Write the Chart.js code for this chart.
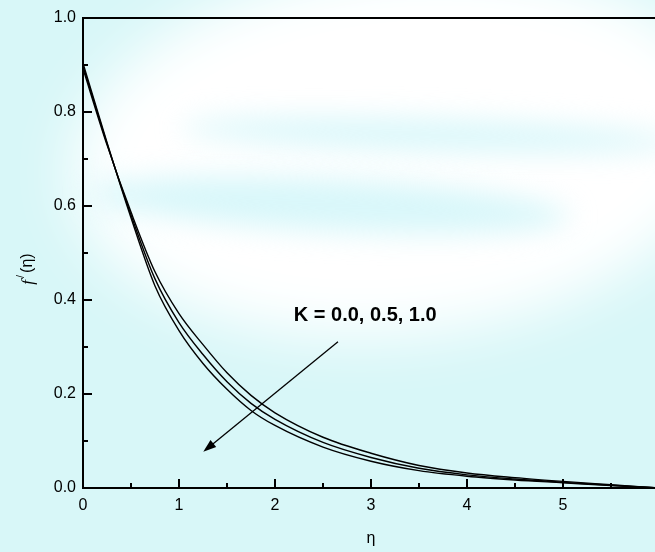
<!DOCTYPE html>
<html>
<head>
<meta charset="utf-8">
<script src="https://cdn.jsdelivr.net/npm/chart.js@4/dist/chart.umd.min.js"></script>
<style>
  html, body { margin: 0; padding: 0; overflow: hidden; background: #dcf8f9; }
  #wrap { position: relative; width: 680px; height: 552px; }
  canvas { display: block; }
</style>
</head>
<body>
<div id="wrap"><canvas id="c" width="680" height="552"></canvas></div>
<script>
// similarity variable
const eta = [0, 0.25, 0.5, 0.75, 1.0, 1.25, 1.5, 1.75, 2.0, 2.5, 3.0, 3.5, 4.0, 4.5, 5.0, 5.5, 6.0];

// velocity profiles f'(eta) for three values of K
const fK00 = [0.892, 0.730, 0.587, 0.460, 0.371, 0.305, 0.245, 0.197, 0.160, 0.108, 0.074, 0.048, 0.032, 0.022, 0.014, 0.007, 0.000];
const fK05 = [0.898, 0.733, 0.581, 0.445, 0.352, 0.284, 0.226, 0.180, 0.146, 0.097, 0.065, 0.042, 0.028, 0.019, 0.012, 0.006, 0.000];
const fK10 = [0.904, 0.735, 0.575, 0.430, 0.335, 0.265, 0.210, 0.165, 0.133, 0.087, 0.057, 0.037, 0.025, 0.017, 0.011, 0.005, 0.000];

const kLabels = ['K = 0.0', 'K = 0.5', 'K = 1.0'];
const annotationText = 'K = 0.0, 0.5, 1.0';
const xTitle = 'η';

const SANS = '"Liberation Sans", Arial, sans-serif';
const AXIS_FONT = '16px ' + SANS;

function toPoints(ys) { return eta.map((x, i) => ({ x: x, y: ys[i] })); }

// soft page background behind the plot
const backdrop = {
  id: 'backdrop',
  beforeDraw(chart) {
    const ctx = chart.ctx;
    ctx.save();
    ctx.fillStyle = '#d8f7f8';
    ctx.fillRect(0, 0, chart.width, chart.height);
    ctx.filter = 'blur(30px)';
    ctx.fillStyle = '#ffffff';
    ctx.beginPath();
    ctx.ellipse(400, 150, 330, 185, -0.1, 0, Math.PI * 2);
    ctx.fill();
    ctx.filter = 'blur(14px)';
    ctx.fillStyle = 'rgba(200,243,248,0.7)';
    ctx.beginPath();
    ctx.ellipse(430, 135, 250, 15, 0.03, 0, Math.PI * 2);
    ctx.fill();
    ctx.beginPath();
    ctx.ellipse(330, 205, 240, 26, 0.05, 0, Math.PI * 2);
    ctx.fill();
    ctx.restore();
  }
};

// frame top line, inward tick marks, axis titles and the K annotation
const decorations = {
  id: 'decorations',
  afterDraw(chart) {
    const ctx = chart.ctx;
    const a = chart.chartArea;
    const xs = chart.scales.x, ys = chart.scales.y;
    ctx.save();
    ctx.strokeStyle = '#000';
    ctx.fillStyle = '#000';

    // top frame line
    ctx.lineWidth = 2;
    ctx.beginPath();
    ctx.moveTo(a.left - 1, a.top);
    ctx.lineTo(a.right + 30, a.top);
    ctx.stroke();

    // x ticks (major every 1, minor every 0.5), pointing into the plot
    ctx.lineWidth = 2;
    for (let v = 0; v <= 6.001; v += 0.5) {
      const px = Math.round(xs.getPixelForValue(v));
      const len = Math.abs(v - Math.round(v)) < 1e-6 ? 9 : 5;
      ctx.beginPath();
      ctx.moveTo(px, a.bottom);
      ctx.lineTo(px, a.bottom - len);
      ctx.stroke();
    }
    // y ticks (major every 0.2, minor every 0.1)
    for (let i = 0; i <= 10; i++) {
      const v = i / 10;
      const py = Math.round(ys.getPixelForValue(v));
      const len = i % 2 === 0 ? 9 : 5;
      ctx.beginPath();
      ctx.moveTo(a.left, py);
      ctx.lineTo(a.left + len, py);
      ctx.stroke();
    }

    // x title
    ctx.font = AXIS_FONT;
    ctx.textAlign = 'center';
    ctx.textBaseline = 'middle';
    ctx.fillText(xTitle, 371, 539);

    // y title: f'(eta), rotated
    ctx.save();
    ctx.translate(28, 269);
    ctx.rotate(-Math.PI / 2);
    ctx.textBaseline = 'middle';
    ctx.textAlign = 'left';
    const f1 = 'italic 17px "Liberation Serif", "Times New Roman", serif';
    const f2 = '11px ' + SANS;
    const wF = (ctx.font = f1, ctx.measureText('f').width);
    const wP = (ctx.font = f2, ctx.measureText('/').width);
    const wR = (ctx.font = AXIS_FONT, ctx.measureText('(η)').width);
    let x0 = -(wF + wP + 4 + wR) / 2;
    ctx.font = f1; ctx.fillText('f', x0, 1);
    x0 += wF + 2;
    ctx.font = f2; ctx.fillText('/', x0, -7);
    x0 += wP + 2;
    ctx.font = AXIS_FONT; ctx.fillText('(η)', x0, 0);
    ctx.restore();

    // annotation label and arrow
    const tx = xs.getPixelForValue(2.94), ty = ys.getPixelForValue(0.366);
    ctx.font = 'bold 20px ' + SANS;
    ctx.textAlign = 'center';
    ctx.textBaseline = 'middle';
    ctx.fillText(annotationText, tx, ty);

    const x1 = xs.getPixelForValue(2.656), y1 = ys.getPixelForValue(0.311);
    const x2 = xs.getPixelForValue(1.253), y2 = ys.getPixelForValue(0.077);
    const ang = Math.atan2(y2 - y1, x2 - x1);
    const hl = 13, hw = 4.5;
    ctx.lineWidth = 1.3;
    ctx.beginPath();
    ctx.moveTo(x1, y1);
    ctx.lineTo(x2 - Math.cos(ang) * hl * 0.8, y2 - Math.sin(ang) * hl * 0.8);
    ctx.stroke();
    ctx.beginPath();
    ctx.moveTo(x2, y2);
    ctx.lineTo(x2 - Math.cos(ang) * hl - Math.sin(ang) * hw, y2 - Math.sin(ang) * hl + Math.cos(ang) * hw);
    ctx.lineTo(x2 - Math.cos(ang) * hl + Math.sin(ang) * hw, y2 - Math.sin(ang) * hl - Math.cos(ang) * hw);
    ctx.closePath();
    ctx.fill();
    ctx.restore();
  }
};

const lineStyle = {
  borderColor: '#000',
  borderWidth: 1.4,
  pointRadius: 0,
  fill: false,
  cubicInterpolationMode: 'monotone'
};

new Chart(document.getElementById('c'), {
  type: 'line',
  data: {
    datasets: [
      Object.assign({ label: kLabels[0], data: toPoints(fK00) }, lineStyle),
      Object.assign({ label: kLabels[1], data: toPoints(fK05) }, lineStyle),
      Object.assign({ label: kLabels[2], data: toPoints(fK10) }, lineStyle)
    ]
  },
  options: {
    responsive: false,
    animation: false,
    devicePixelRatio: 1,
    layout: { padding: { top: 18, right: 21, left: 0, bottom: 0 } },
    plugins: { legend: { display: false }, tooltip: { enabled: false } },
    scales: {
      x: {
        type: 'linear',
        min: 0, max: 6,
        grid: { display: false, drawTicks: false },
        border: { display: true, color: '#000', width: 2 },
        ticks: { stepSize: 1, color: '#000', font: { family: SANS, size: 16 }, padding: 8, maxRotation: 0 },
        afterFit(scale) { scale.height = 64; }
      },
      y: {
        type: 'linear',
        min: 0, max: 1,
        grid: { display: false, drawTicks: false },
        border: { display: true, color: '#000', width: 2 },
        ticks: { stepSize: 0.2, color: '#000', font: { family: SANS, size: 16 }, padding: 7,
                 callback: v => v.toFixed(1) },
        afterFit(scale) { scale.width = 83; }
      }
    }
  },
  plugins: [backdrop, decorations]
});
</script>
</body>
</html>
